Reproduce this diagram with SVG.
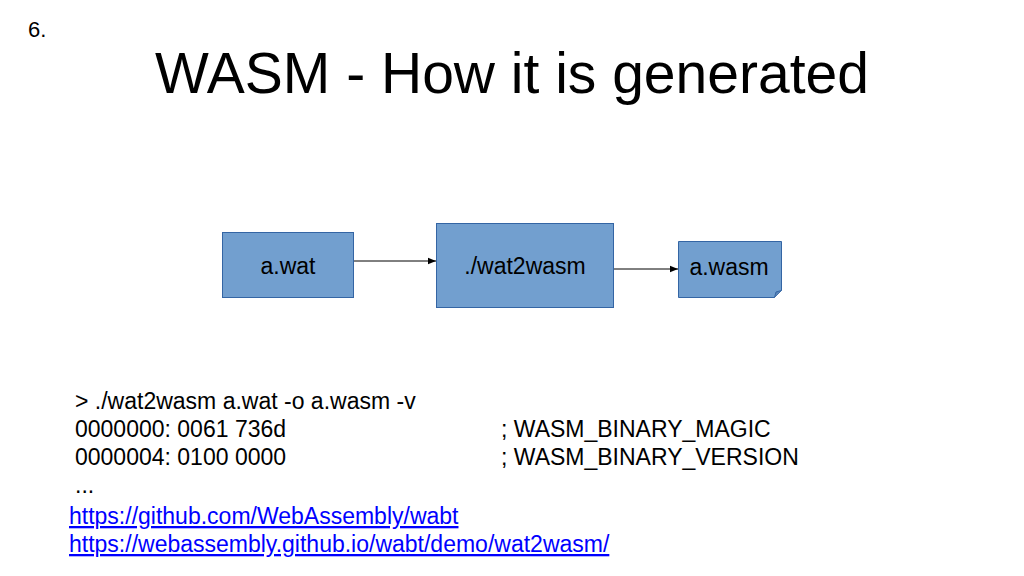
<svg xmlns="http://www.w3.org/2000/svg" width="1024" height="576" viewBox="0 0 1024 576">
<defs>
<style>
text{font-family:"Liberation Sans",Arial,sans-serif;fill:#000}
.box{fill:#729fcf;stroke:#3465a4;stroke-width:1}
.lbl{font-size:23px;text-anchor:middle}
.code{font-size:23px}
.link{font-size:23px;fill:#0000ff;text-decoration:underline}
.conn{stroke:#000;stroke-width:1;fill:none}
</style>
<marker id="ah" viewBox="0 0 10 10" refX="10" refY="5" markerWidth="8" markerHeight="8" orient="auto" markerUnits="userSpaceOnUse">
<path d="M0,1 L10,5 L0,9 z" fill="#000"/>
</marker>
</defs>
<rect width="1024" height="576" fill="#fff"/>
<text x="28" y="37" style="font-size:22px">6.</text>
<text x="512" y="93" style="font-size:57px;text-anchor:middle">WASM - How it is generated</text>
<g id="connectors">
<line class="conn" x1="353" y1="261" x2="436" y2="261" marker-end="url(#ah)"/>
<line class="conn" x1="613" y1="269" x2="678" y2="269" stroke="#333" marker-end="url(#ah)"/>
</g>
<g id="node-awat">
<rect class="box" x="222.5" y="232.5" width="131" height="65"/>
<text class="lbl" x="288" y="274">a.wat</text>
</g>
<g id="node-wat2wasm">
<rect class="box" x="436.5" y="223.5" width="177" height="84"/>
<text class="lbl" x="525" y="274">./wat2wasm</text>
</g>
<g id="node-awasm">
<path class="box" d="M678.5,241.5 H781.5 V290.5 L774.5,297.5 H678.5 Z"/>
<path d="M774.5,297.5 L776,292 L781.5,290.5" fill="#5b85b8" stroke="#3465a4" stroke-width="1"/>
<text class="lbl" x="729" y="275">a.wasm</text>
</g>
<text class="code" x="75" y="409">&gt; ./wat2wasm a.wat -o a.wasm -v</text>
<text class="code" x="75" y="437">0000000: 0061 736d</text>
<text class="code" x="75" y="465">0000004: 0100 0000</text>
<text class="code" x="75" y="493">...</text>
<text class="code" x="501" y="437">; WASM_BINARY_MAGIC</text>
<text class="code" x="501" y="465">; WASM_BINARY_VERSION</text>
<text class="link" x="69" y="524">https://github.com/WebAssembly/wabt</text>
<text class="link" x="69" y="552">https://webassembly.github.io/wabt/demo/wat2wasm/</text>
</svg>
